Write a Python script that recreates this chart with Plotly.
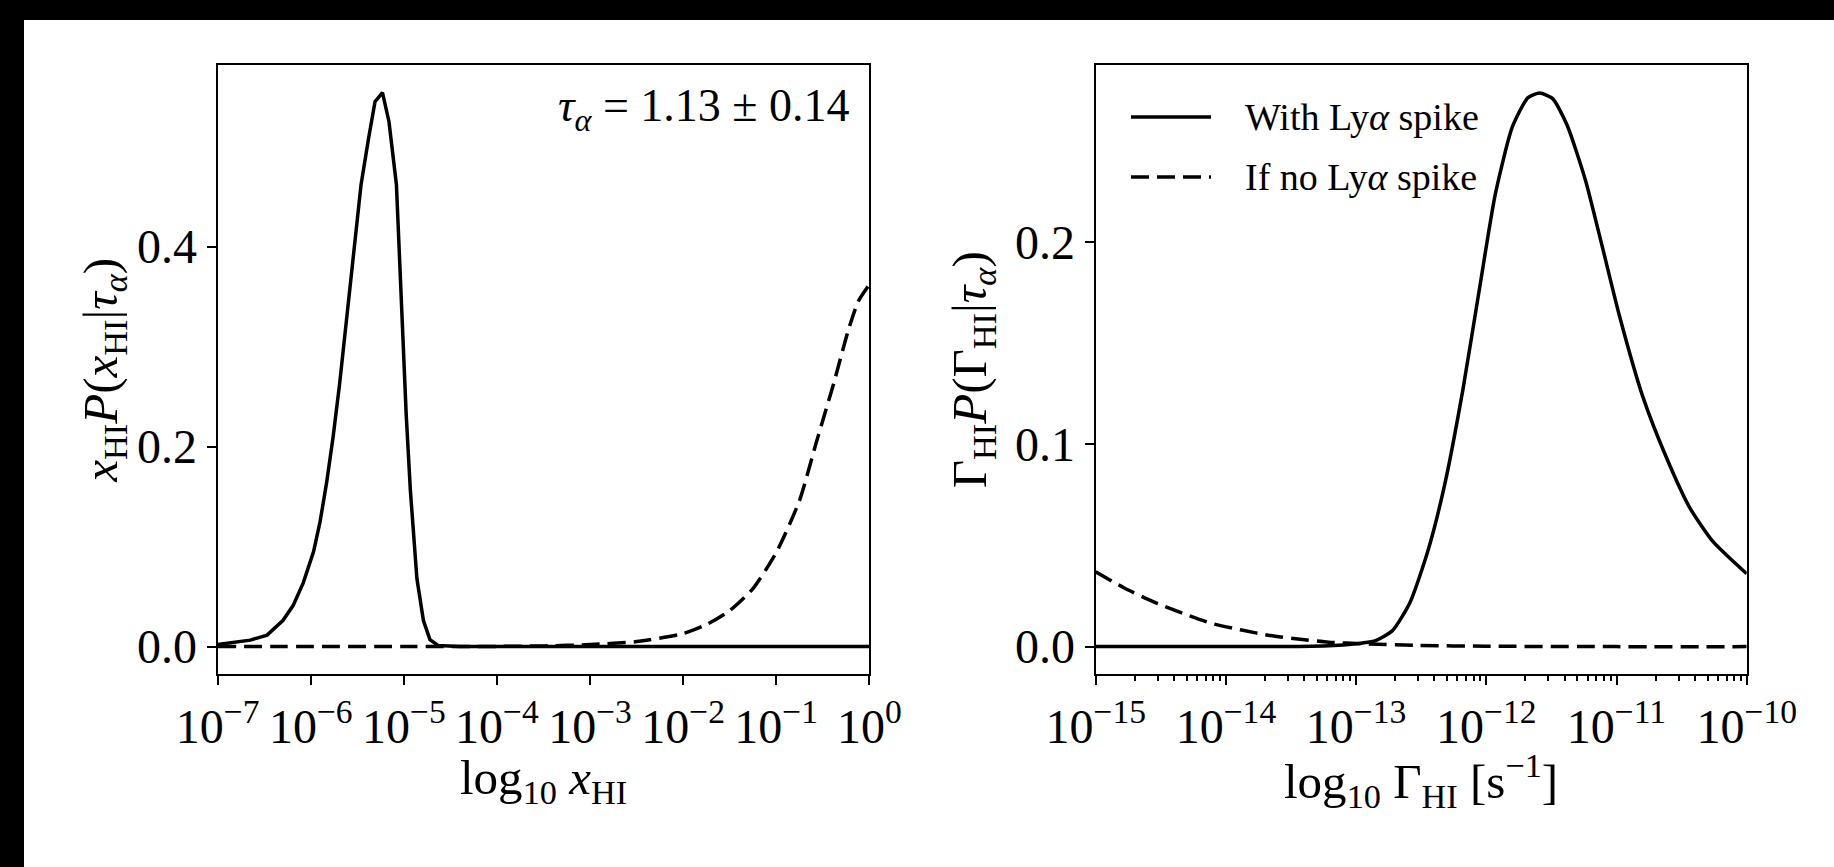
import plotly.graph_objects as go

W, H = 1834, 867
FONT = "Liberation Serif, Times New Roman, serif"

# Left panel: x_HI P(x_HI | tau_alpha) against log10 x_HI
xhi_log_spike = [-7.00, -6.85, -6.65, -6.47, -6.30, -6.19, -6.08, -5.97, -5.90, -5.83,
                 -5.76, -5.69, -5.615, -5.53, -5.46, -5.38, -5.31, -5.23, -5.16, -5.08,
                 -5.045, -5.01, -4.975, -4.93, -4.86, -4.79, -4.72, -4.63, -4.40, -3.0,
                 -1.0, 0.0]
xhi_p_spike = [0.0020, 0.0040, 0.0065, 0.0115, 0.026, 0.041, 0.064, 0.095, 0.125, 0.164,
               0.210, 0.263, 0.328, 0.400, 0.462, 0.508, 0.545, 0.554, 0.525, 0.462,
               0.385, 0.309, 0.232, 0.156, 0.068, 0.026, 0.007, 0.001, 0.0, 0.0,
               0.0, 0.0]

xhi_log_nospike = [-7.0, -5.0, -4.0, -3.5, -3.0, -2.5, -2.0, -1.75, -1.5, -1.25,
                   -1.0, -0.75, -0.57, -0.38, -0.23, -0.12, 0.0]
xhi_p_nospike = [0.0, 0.0, 0.0002, 0.0007, 0.002, 0.005, 0.013, 0.022, 0.036, 0.058,
                 0.094, 0.146, 0.204, 0.264, 0.315, 0.345, 0.362]

# Right panel: Gamma_HI P(Gamma_HI | tau_alpha) against log10 Gamma_HI
gam_log_spike = [-15.0, -13.6, -13.25, -13.1, -12.95, -12.85, -12.72, -12.585, -12.45, -12.32,
                 -12.18, -12.05, -11.93, -11.80, -11.68, -11.59, -11.49, -11.38, -11.24,
                 -11.11, -10.975, -10.80, -10.62, -10.44, -10.26, -10.0]
gam_p_spike = [0.0, 0.0, 0.0003, 0.0008, 0.0018, 0.003, 0.008, 0.022, 0.047, 0.080,
               0.127, 0.178, 0.224, 0.257, 0.2715, 0.2738, 0.271, 0.258, 0.231,
               0.198, 0.163, 0.124, 0.094, 0.069, 0.052, 0.036]

gam_log_nospike = [-15.0, -14.78, -14.55, -14.33, -14.11, -13.88, -13.66, -13.43, -13.21,
                   -12.94, -12.54, -12.0, -11.0, -10.0]
gam_p_nospike = [0.037, 0.029, 0.022, 0.0164, 0.0115, 0.0082, 0.0055, 0.0036, 0.0022,
                 0.0014, 0.0006, 0.0002, 0.0, 0.0]

xhi_ticks = [-7, -6, -5, -4, -3, -2, -1, 0]
gam_ticks = [-15, -14, -13, -12, -11, -10]
xhi_yticks = [0.0, 0.2, 0.4]
gam_yticks = [0.0, 0.1, 0.2]

series_names = ["With Ly<i>α</i> spike", "If no Ly<i>α</i> spike"]
annotation_text = "<i>τ</i><sub><i>α</i></sub> = 1.13 ± 0.14"
xhi_xlabel = "log<sub>10</sub> <i>x</i><sub>HI</sub>"
gam_xlabel = "log<sub>10</sub> Γ<sub>HI</sub> [s<sup>−1</sup>]"
xhi_ylabel = "<i>x</i><sub>HI</sub><i>P</i>(<i>x</i><sub>HI</sub>|<i>τ</i><sub><i>α</i></sub>)"
gam_ylabel = "Γ<sub>HI</sub><i>P</i>(Γ<sub>HI</sub>|<i>τ</i><sub><i>α</i></sub>)"


def px_x(p):
    return p / W


def px_y(p):
    return 1 - p / H


def pow_label(e):
    return "10<sup>%s</sup>" % (str(e).replace("-", "−"))


DASH = "18px,8px"
LW = 3.5
TICK_SIZE = 48
TITLE_SIZE = 49

# panel frames in canvas pixels
LEFT_X = (217.7, 869.3)
RIGHT_X = (1095.7, 1746.7)
PANEL_Y = (65.3, 674.3)
XTITLE_Y = 780

fig = go.Figure()
fig.add_trace(go.Scatter(x=[10 ** v for v in xhi_log_spike], y=xhi_p_spike, mode="lines",
                         line=dict(color="black", width=LW), name=series_names[0],
                         xaxis="x", yaxis="y", showlegend=False))
fig.add_trace(go.Scatter(x=[10 ** v for v in xhi_log_nospike], y=xhi_p_nospike, mode="lines",
                         line=dict(color="black", width=LW, dash=DASH, shape="spline", smoothing=0.6),
                         name=series_names[1], xaxis="x", yaxis="y", showlegend=False))
fig.add_trace(go.Scatter(x=[10 ** v for v in gam_log_spike], y=gam_p_spike, mode="lines",
                         line=dict(color="black", width=LW, shape="spline", smoothing=0.6),
                         name=series_names[0], xaxis="x2", yaxis="y2", showlegend=False))
fig.add_trace(go.Scatter(x=[10 ** v for v in gam_log_nospike], y=gam_p_nospike, mode="lines",
                         line=dict(color="black", width=LW, dash=DASH, shape="spline", smoothing=0.6),
                         name=series_names[1], xaxis="x2", yaxis="y2", showlegend=False))

axis_common = dict(showgrid=False, zeroline=False, showline=True, linecolor="black",
                   linewidth=2, mirror=True, ticks="outside", ticklen=9, tickwidth=2,
                   tickcolor="black", automargin=False,
                   tickfont=dict(family=FONT, size=TICK_SIZE, color="black"))

y_dom = [px_y(PANEL_Y[1]), px_y(PANEL_Y[0])]

minor_vals = [m * 10 ** e for e in range(-15, -10) for m in range(2, 10)]

fig.update_layout(
    width=W, height=H,
    margin=dict(l=0, r=0, t=0, b=0),
    paper_bgcolor="white", plot_bgcolor="white",
    showlegend=False,
    font=dict(family=FONT, color="black"),
    xaxis=dict(axis_common, type="log", range=[-7, 0], domain=[px_x(LEFT_X[0]), px_x(LEFT_X[1])],
               tickvals=[10 ** e for e in xhi_ticks], ticktext=[pow_label(e) for e in xhi_ticks],
               anchor="y"),
    yaxis=dict(axis_common, range=[-0.0277, 0.5814], domain=y_dom, anchor="x",
               tickvals=xhi_yticks, ticktext=["%.1f" % v for v in xhi_yticks],
               title=dict(text=xhi_ylabel, font=dict(family=FONT, size=TITLE_SIZE), standoff=4)),
    xaxis2=dict(axis_common, type="log", range=[-15, -10], domain=[px_x(RIGHT_X[0]), px_x(RIGHT_X[1])],
                tickvals=[10 ** e for e in gam_ticks], ticktext=[pow_label(e) for e in gam_ticks],
                anchor="y2",
                minor=dict(tickvals=minor_vals, ticks="outside", ticklen=5, tickwidth=1.5,
                           tickcolor="black", showgrid=False)),
    yaxis2=dict(axis_common, range=[-0.01369, 0.2875], domain=y_dom, anchor="x2",
                tickvals=gam_yticks, ticktext=["%.1f" % v for v in gam_yticks],
                title=dict(text=gam_ylabel, font=dict(family=FONT, size=TITLE_SIZE), standoff=13)),
)

shapes = [
    # dark frame strips along the top and left edges of the canvas
    dict(type="rect", xref="paper", yref="paper", x0=0, x1=1, y0=px_y(20), y1=1,
         fillcolor="black", line=dict(width=0), layer="below"),
    dict(type="rect", xref="paper", yref="paper", x0=0, x1=px_x(24), y0=0, y1=1,
         fillcolor="black", line=dict(width=0), layer="below"),
    # legend line samples
    dict(type="line", xref="paper", yref="paper", x0=px_x(1131), x1=px_x(1211),
         y0=px_y(117), y1=px_y(117), line=dict(color="black", width=LW)),
    dict(type="line", xref="paper", yref="paper", x0=px_x(1131), x1=px_x(1211),
         y0=px_y(177), y1=px_y(177), line=dict(color="black", width=LW, dash=DASH)),
]
fig.update_layout(shapes=shapes)

annotations = [
    dict(xref="paper", yref="paper", x=px_x(852), y=px_y(109), xanchor="right", yanchor="middle",
         text=annotation_text, showarrow=False, font=dict(family=FONT, size=46, color="black")),
    dict(xref="paper", yref="paper", x=px_x(1243), y=px_y(117), xanchor="left", yanchor="middle",
         text=series_names[0], showarrow=False, font=dict(family=FONT, size=38, color="black")),
    dict(xref="paper", yref="paper", x=px_x(1243), y=px_y(177), xanchor="left", yanchor="middle",
         text=series_names[1], showarrow=False, font=dict(family=FONT, size=38, color="black")),
    # x-axis titles
    dict(xref="paper", yref="paper", x=px_x(sum(LEFT_X) / 2), y=px_y(XTITLE_Y), xanchor="center",
         yanchor="middle", text=xhi_xlabel, showarrow=False,
         font=dict(family=FONT, size=TITLE_SIZE, color="black")),
    dict(xref="paper", yref="paper", x=px_x(sum(RIGHT_X) / 2), y=px_y(XTITLE_Y), xanchor="center",
         yanchor="middle", text=gam_xlabel, showarrow=False,
         font=dict(family=FONT, size=TITLE_SIZE, color="black")),
]
fig.update_layout(annotations=annotations)

fig.write_html("out.html")
